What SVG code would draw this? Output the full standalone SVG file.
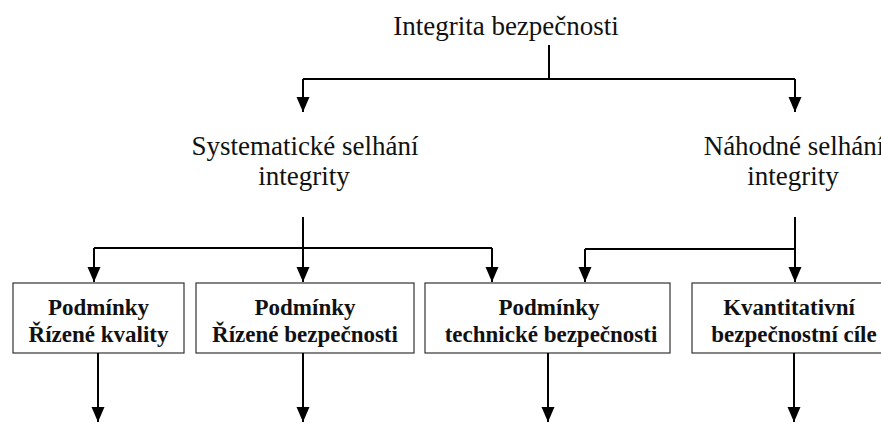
<svg xmlns="http://www.w3.org/2000/svg" width="881" height="424" viewBox="0 0 881 424">
<style>
.lbl{font-family:"Liberation Serif","Times New Roman",serif;font-size:27px;fill:#111;text-anchor:middle}
.bx{fill:#fff;stroke:#333;stroke-width:1.2}
.bt{font-family:"Liberation Serif","Times New Roman",serif;font-size:23px;font-weight:bold;fill:#111;text-anchor:middle}
.ln{fill:none;stroke:#000;stroke-width:2}
</style>
<defs>
<marker id="ah" markerUnits="userSpaceOnUse" markerWidth="15" markerHeight="14" refX="15" refY="7" orient="auto">
<path d="M0,0.5 L15,7 L0,13.5 z" fill="#000"/>
</marker>
</defs>
<rect width="881" height="424" fill="#fff"/>
<g id="n-root"><text class="lbl" x="506" y="35">Integrita bezpečnosti</text></g>
<g id="n-sys"><text class="lbl" x="305" y="155">Systematické selhání</text><text class="lbl" x="304" y="185">integrity</text></g>
<g id="n-rand"><text class="lbl" x="794" y="155">Náhodné selhání</text><text class="lbl" x="793" y="185">integrity</text></g>
<g id="n-b1"><rect class="bx" x="13" y="283" width="171" height="70"/><text class="bt" x="98.5" y="315">Podmínky</text><text class="bt" x="98.5" y="342">Řízené kvality</text></g>
<g id="n-b2"><rect class="bx" x="196" y="283" width="218" height="70"/><text class="bt" x="305" y="315">Podmínky</text><text class="bt" x="305" y="342">Řízené bezpečnosti</text></g>
<g id="n-b3"><rect class="bx" x="425" y="283" width="245" height="70"/><text class="bt" x="549" y="315">Podmínky</text><text class="bt" x="551" y="342">technické bezpečnosti</text></g>
<g id="n-b4"><rect class="bx" x="692" y="283" width="204" height="70"/><text class="bt" x="789" y="315">Kvantitativní</text><text class="bt" x="794" y="342">bezpečnostní cíle</text></g>
<g id="connectors">
<path class="ln" d="M549,45 V79 M303,79 H795"/>
<path class="ln" d="M303,79 V112" marker-end="url(#ah)"/>
<path class="ln" d="M795,79 V112" marker-end="url(#ah)"/>
<path class="ln" d="M94,248 H492"/>
<path class="ln" d="M303,217 V282" marker-end="url(#ah)"/>
<path class="ln" d="M94,248 V282" marker-end="url(#ah)"/>
<path class="ln" d="M492,248 V282" marker-end="url(#ah)"/>
<path class="ln" d="M585,249 H795"/>
<path class="ln" d="M795,217 V282" marker-end="url(#ah)"/>
<path class="ln" d="M585,249 V282" marker-end="url(#ah)"/>
<path class="ln" d="M98,353 V422" marker-end="url(#ah)"/>
<path class="ln" d="M303,353 V422" marker-end="url(#ah)"/>
<path class="ln" d="M548,353 V422" marker-end="url(#ah)"/>
<path class="ln" d="M794,353 V422" marker-end="url(#ah)"/>
</g>
</svg>
